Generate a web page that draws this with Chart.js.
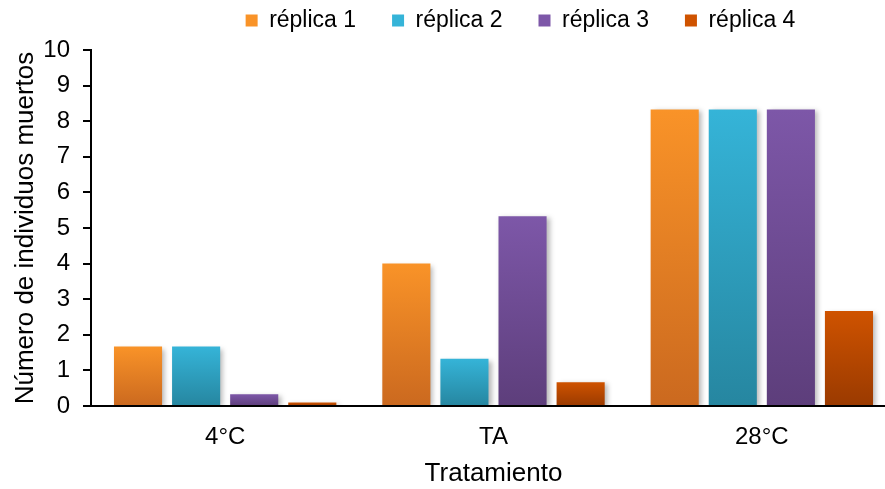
<!DOCTYPE html>
<html>
<head>
<meta charset="utf-8">
<script src="https://cdn.jsdelivr.net/npm/chart.js@4"></script>
<style>
  html, body { margin: 0; padding: 0; background: #fff; }
  #wrap { width: 885px; height: 489px; }
</style>
</head>
<body>
<div id="wrap"><canvas id="barchart"></canvas></div>
<script>
var categories = ['4°C', 'TA', '28°C'];
var seriesNames = ['réplica 1', 'réplica 2', 'réplica 3', 'réplica 4'];
var replica1 = [1.67, 4.0, 8.33];
var replica2 = [1.67, 1.33, 8.33];
var replica3 = [0.33, 5.33, 8.33];
var replica4 = [0.1, 0.67, 2.67];
var yTicks = [0, 1, 2, 3, 4, 5, 6, 7, 8, 9, 10];

// top / bottom colours of each bar gradient
var topColors = ['#f99328', '#35b4d8', '#7d57a8', '#cf5300'];
var bottomColors = ['#cb691f', '#2686a0', '#5d3e7b', '#9a3a00'];

function barFill(i) {
    return function (c) {
        var chart = c.chart;
        var g;
        if (c.type === 'data' && chart.scales && chart.scales.y) {
            var y = chart.scales.y;
            var top = y.getPixelForValue(c.parsed.y);
            var base = y.getPixelForValue(0);
            if (!isFinite(top) || base - top < 1) return topColors[i];
            g = chart.ctx.createLinearGradient(0, top, 0, base);
        } else {
            // legend box
            g = chart.ctx.createLinearGradient(0, 14, 0, 27);
        }
        g.addColorStop(0, topColors[i]);
        g.addColorStop(1, bottomColors[i]);
        return g;
    };
}

var allSeries = [replica1, replica2, replica3, replica4];
var datasets = allSeries.map(function (vals, i) {
    return {
        label: seriesNames[i],
        data: vals,
        backgroundColor: barFill(i),
        borderWidth: 0,
        categoryPercentage: 0.866,
        barPercentage: 0.828
    };
});

var FONT = '"Liberation Sans", Arial, sans-serif';

var barShadow = {
    id: 'barShadow',
    beforeDatasetsDraw: function (chart) {
        var ctx = chart.ctx;
        ctx.save();
        ctx.shadowColor = 'rgba(0,0,0,0.28)';
        ctx.shadowBlur = 5;
        ctx.shadowOffsetX = 3;
        ctx.shadowOffsetY = 2;
    },
    afterDatasetsDraw: function (chart) {
        chart.ctx.restore();
    }
};

// legend sits right of centre and close to the top in the original,
// and the plot runs a little past the right edge of the picture
var placeBoxes = {
    id: 'placeBoxes',
    afterLayout: function (chart) {
        var lg = chart.legend;
        if (lg) {
            lg.left += 78; lg.right += 78;
            lg.top -= 27;
        }
        var x = chart.scales.x;
        x.right += 11;
        x.width += 11;
        x.configure();
    }
};

var ctx = document.getElementById('barchart').getContext('2d');
var myChart = new Chart(ctx, {
    type: 'bar',
    data: {
        labels: categories,
        datasets: datasets
    },
    plugins: [barShadow, placeBoxes],
    options: {
        responsive: true,
        maintainAspectRatio: false,
        animation: false,
        layout: { padding: 0 },
        plugins: {
            legend: {
                position: 'top',
                maxHeight: 50,
                labels: {
                    boxWidth: 12,
                    boxHeight: 12,
                    padding: 36,
                    color: '#000',
                    font: { family: FONT, size: 23 }
                }
            },
            tooltip: { enabled: false }
        },
        scales: {
            x: {
                afterFit: function (scale) { scale.height = 83; },
                grid: { display: false, drawTicks: false },
                border: { color: '#000', width: 2 },
                ticks: {
                    color: '#000',
                    padding: 17,
                    font: { family: FONT, size: 24 }
                },
                title: {
                    display: true,
                    text: 'Tratamiento',
                    color: '#000',
                    padding: { top: 6, bottom: 0 },
                    font: { family: FONT, size: 26 }
                }
            },
            y: {
                min: 0,
                max: 10,
                afterBuildTicks: function (scale) {
                    scale.ticks = yTicks.map(function (v) { return { value: v }; });
                },
                afterFit: function (scale) { scale.width = 91; },
                grid: {
                    drawOnChartArea: false,
                    drawTicks: true,
                    tickLength: 8,
                    color: '#000',
                    lineWidth: 2
                },
                border: { color: '#000', width: 2 },
                ticks: {
                    color: '#000',
                    padding: 13,
                    font: { family: FONT, size: 24 }
                },
                title: {
                    display: true,
                    text: 'Número de individuos muertos',
                    color: '#000',
                    padding: { top: 10, bottom: 0 },
                    font: { family: FONT, size: 26 }
                }
            }
        }
    }
});
</script>
</body>
</html>
